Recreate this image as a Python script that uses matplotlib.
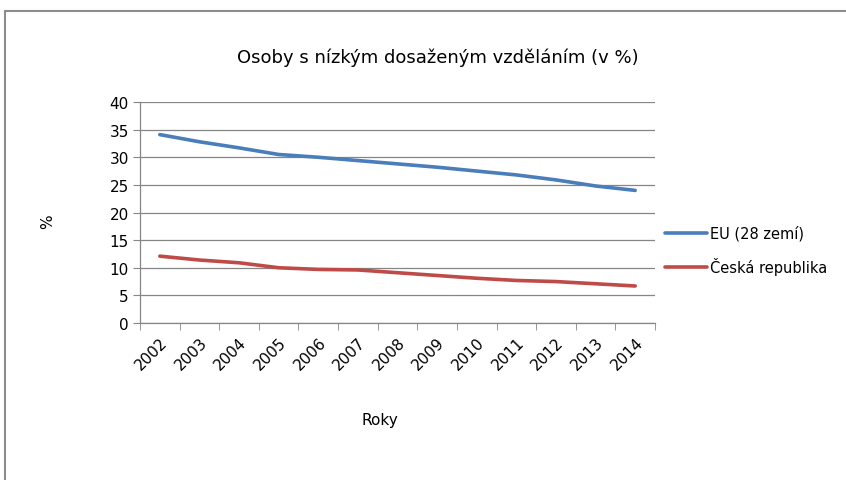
import matplotlib
matplotlib.use("Agg")
import matplotlib.pyplot as plt
from matplotlib.patches import Rectangle
import numpy as np

years = ["2002", "2003", "2004", "2005", "2006", "2007", "2008", "2009",
         "2010", "2011", "2012", "2013", "2014"]
eu = [34.1, 32.8, 31.7, 30.5, 30.0, 29.4, 28.8, 28.2, 27.5, 26.8, 25.9, 24.8, 24.0]
cz = [12.1, 11.4, 10.9, 10.0, 9.7, 9.6, 9.1, 8.6, 8.1, 7.7, 7.5, 7.1, 6.7]
series_names = ["EU (28 zemí)", "Česká republika"]
yticks = [0, 5, 10, 15, 20, 25, 30, 35, 40]

plt.rcParams['font.family'] = ['DejaVu Sans']

W, H = 846, 481
fig = plt.figure(figsize=(W / 100, H / 100), dpi=100)
fig.patches.append(Rectangle((5 / W, -0.1), 1.2, 1 - 12 / H + 0.1, transform=fig.transFigure,
                             fill=False, edgecolor='#8c8c8c', linewidth=1.5))

ax = fig.add_axes([140 / W, 1 - 324 / H, 515 / W, 221 / H])
x = np.arange(len(years))
ax.plot(x, eu, color='#4A7EBB', linewidth=2.6, solid_capstyle='round', label=series_names[0])
ax.plot(x, cz, color='#BE4B48', linewidth=2.6, solid_capstyle='round', label=series_names[1])

ax.set_xlim(-0.5, len(years) - 0.5)
ax.set_ylim(0, 40)
ax.set_yticks(yticks)
ax.set_yticklabels([str(v) for v in yticks], fontsize=11)
ax.set_xticks(x)
ax.set_xticklabels(years, rotation=45, ha='right', rotation_mode='anchor', fontsize=11)
ax.set_xticks(np.arange(-0.5, len(years)), minor=True)
ax.tick_params(axis='x', which='major', length=0, pad=8)
ax.tick_params(axis='x', which='minor', length=5, color='#868686', direction='out')
ax.tick_params(axis='y', length=5, color='#868686', direction='out', pad=3)

ax.grid(axis='y', color='#868686', linewidth=0.9)
ax.set_axisbelow(True)
for s in ['top', 'right']:
    ax.spines[s].set_visible(False)
for s in ['left', 'bottom']:
    ax.spines[s].set_color('#868686')
    ax.spines[s].set_linewidth(0.9)

ax.text((438 - 140) / 515, (324 - 58) / 221, "Osoby s nízkým dosaženým vzděláním (v %)",
        transform=ax.transAxes, ha='center', va='center', fontsize=13)
ax.set_xlabel("Roky", fontsize=11)
ax.xaxis.set_label_coords((380 - 140) / 515, (324 - 413) / 221)
ax.set_ylabel("%", fontsize=11)
ax.yaxis.set_label_coords((55 - 140) / 515, (324 - 222) / 221)

leg = fig.legend(loc='upper left', bbox_to_anchor=(652 / W, 1 - 213 / H), frameon=False,
                 fontsize=10.5, handlelength=2.9, handletextpad=0.15, labelspacing=1.15)

fig.savefig("out.png", dpi=100)
